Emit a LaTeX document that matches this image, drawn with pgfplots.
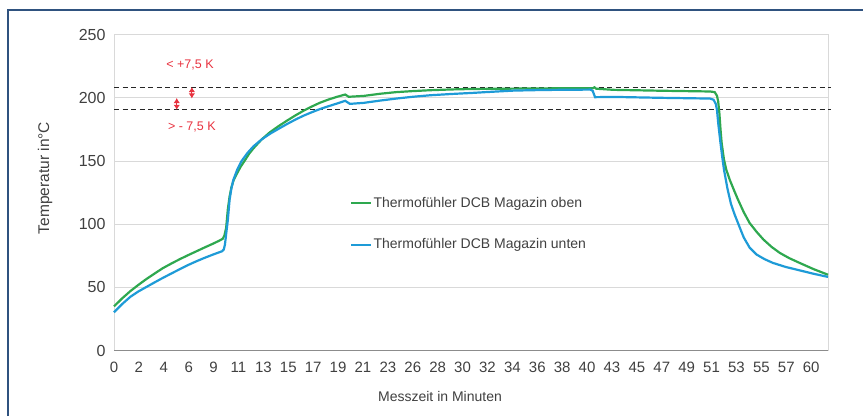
\documentclass[border=0pt]{standalone}
\usepackage{pgfplots}
\pgfplotsset{compat=1.18}
\usepackage{pgfplotstable}
\usetikzlibrary{arrows.meta}
\usepackage{fontspec}
\setmainfont{Liberation Sans}
\definecolor{txt}{HTML}{404040}
\definecolor{gridc}{HTML}{D9D9D9}
\definecolor{axisg}{HTML}{8C8C8C}
\definecolor{cgreen}{HTML}{2EA84F}
\definecolor{cblue}{HTML}{1E9BD7}
\definecolor{cred}{HTML}{E8323F}
\definecolor{framec}{HTML}{2F527F}

\pgfplotstableread{
t v
0 35
0.7 41.3
1.4 47
2.1 52
2.8 56.7
3.5 61
4.2 65.2
5.0 69.2
5.7 72.5
6.4 75.6
7.1 78.6
7.8 81.6
8.5 84.5
9.0 86.7
9.35 88.4
9.5 91
9.65 97
9.8 112
9.95 122
10.1 129
10.3 135
10.55 139.5
10.9 145.5
11.3 151
11.65 156
12 160
12.7 167
13.4 172.6
14.15 177.5
14.9 182
15.6 186
16.3 189.7
17 193
17.7 196
18.45 198.6
19.2 200.8
19.9 202.6
20.2 200.8
21.5 201.5
22.9 203.2
24.3 204.5
25.7 205.3
27.2 206
29 206.6
30.9 207
35 207.3
38 207.5
41.2 207.5
41.35 208.3
41.5 207.2
43 206.3
47 205.6
51.3 205
51.7 204.5
51.9 201.5
52.0 197
52.1 188
52.2 175
52.3 164
52.5 151
52.7 143
53.0 135
53.4 126
53.7 119.5
54.2 109.5
54.7 101
55.3 94
55.9 87.8
56.6 82
57.3 77.3
58.1 73.2
59.0 69.4
60.2 64.5
61.45 60
}\oben

\pgfplotstableread{
t v
0 30.3
0.7 36.8
1.4 42.5
2.1 46.8
2.8 50.4
3.5 54
4.2 57.5
5.0 61.3
5.7 64.6
6.4 67.8
7.1 70.7
7.8 73.4
8.5 75.9
9.0 77.6
9.3 78.6
9.45 80
9.55 84
9.65 92
9.8 103.6
9.95 119.5
10.1 128
10.27 135
10.6 143
10.98 150
11.5 156.5
12 161.6
12.7 167
13.4 171.4
14.15 175.4
14.9 179.3
15.6 182.7
16.3 185.8
17 188.5
17.7 191
18.45 193.3
19.2 195.5
19.9 197.6
20.3 195.2
21.5 196
22.9 197.8
24.3 199.4
25.7 200.8
27.2 202
29 203
30.9 203.9
32 204.5
34.4 205.7
37 206.2
41.0 206.5
41.2 205.5
41.4 200.5
43 200.7
47 200
51.3 199.4
51.6 198.5
51.8 195
51.9 190
52.0 180
52.1 172
52.2 164
52.35 153
52.5 143
52.8 128
53.1 116
53.4 108
53.7 101
54.0 94
54.2 89.5
54.7 81.5
55.3 76
56.0 72.3
56.7 69.4
57.8 66.2
59.0 63.5
60.2 60.8
61.45 58.3
}\unten

\begin{document}
\begin{tikzpicture}[x=1pt,y=1pt]
\path[use as bounding box] (0,0) rectangle (863,416);
\draw[framec, line width=1.3pt] (8,0) -- (8,406) -- (863,406);
\begin{axis}[
  at={(114pt,65.4pt)}, anchor=south west,
  scale only axis, width=714pt, height=316pt,
  xmin=0, xmax=61.45, ymin=0, ymax=250,
  clip=false,
  ytick={0,50,100,150,200,250},
  xtick={0,2.142857,4.285714,6.428571,8.571429,10.714286,12.857143,15,17.142857,19.285714,21.428571,23.571429,25.714286,27.857143,30,32.142857,34.285714,36.428571,38.571429,40.714286,42.857143,45,47.142857,49.285714,51.428571,53.571429,55.714286,57.857143,60},
  xticklabels={0,2,4,6,9,11,13,15,17,19,21,23,26,28,30,32,34,36,38,40,43,45,47,49,51,53,55,57,60},
  ymajorgrids, grid style={gridc, line width=0.9pt},
  axis line style={gridc, line width=0.9pt},
  major tick length=0pt,
  tick label style={text=txt},
  xticklabel style={font=\fontsize{15}{17}\selectfont, yshift=-8pt},
  yticklabel style={font=\fontsize{16}{18}\selectfont, xshift=-5pt},
  /pgf/number format/assume math mode=true,
  legend style={at={(axis cs:20.3,100.4)}, anchor=west, draw=none, fill=none,
    font=\fontsize{14}{16}\selectfont, text=txt, row sep=27pt, inner sep=0pt,
    nodes={inner sep=1.5pt}},
  legend cell align=left,
  legend image code/.code={\draw[#1, line width=2pt] (0pt,0pt) -- (20pt,0pt);},
]
\draw[black!85, line width=1.2pt, dash pattern=on 5pt off 3.5pt] (axis cs:0,208) -- (axis cs:61.75,208);
\draw[black!85, line width=1.2pt, dash pattern=on 5pt off 3.5pt] (axis cs:0,191) -- (axis cs:61.75,191);
\addplot[cgreen, line width=2.2pt, no marks] table[x=t,y=v] {\oben};
\addlegendentry{Thermofühler DCB Magazin oben}
\addplot[cblue, line width=2.2pt, no marks] table[x=t,y=v] {\unten};
\addlegendentry{Thermofühler DCB Magazin unten}
\draw[axisg, line width=1pt] (rel axis cs:0,0) -- (rel axis cs:1,0);
\draw[cred, line width=1pt, {Latex[length=5pt,width=6.5pt]}-{Latex[length=5pt,width=6.5pt]}] (axis cs:6.7,199.5) -- (axis cs:6.7,208.5);
\draw[cred, line width=1pt, {Latex[length=5pt,width=6.5pt]}-{Latex[length=5pt,width=6.5pt]}] (axis cs:5.4,190.5) -- (axis cs:5.4,199.8);
\node[cred, font=\fontsize{12.5}{14}\selectfont] at (axis cs:6.54,225.6) {< +7,5 K};
\node[cred, font=\fontsize{12.5}{14}\selectfont] at (axis cs:6.7,176.6) {> - 7,5 K};
\end{axis}
\node[txt, font=\fontsize{14}{16}\selectfont] at (440,20) {Messzeit in Minuten};
\node[txt, font=\fontsize{15.5}{17}\selectfont, rotate=90] at (45,238) {Temperatur in°C};
\end{tikzpicture}
\end{document}
